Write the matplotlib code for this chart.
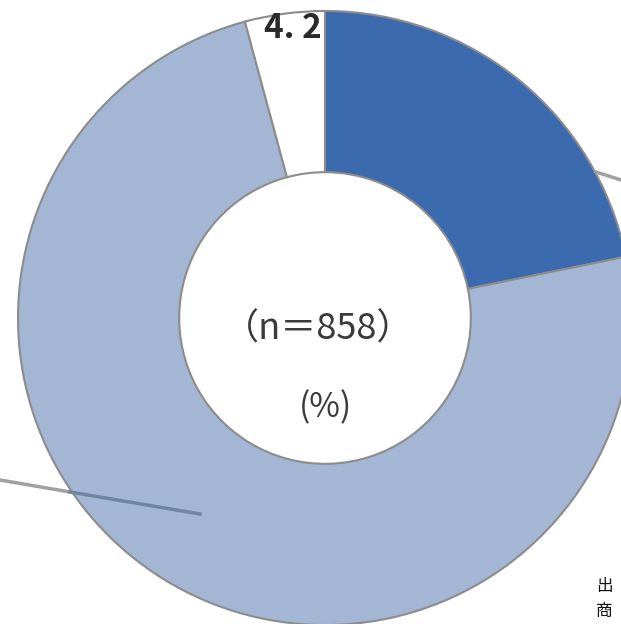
import matplotlib
matplotlib.use("Agg")
import matplotlib.pyplot as plt

# donut shares (clockwise from top)
labels = ["A", "B", "C"]
values = [21.8, 74.0, 4.2]
colors = ["#3b6aae", "#a3b7d4", "#ffffff"]
n_total = 858
small_label = "4. 2"

plt.rcParams['font.family'] = ['Noto Sans CJK JP', 'DejaVu Sans']

fig = plt.figure(figsize=(6.21, 6.24), dpi=100)
ax = fig.add_axes([0, 0, 1, 1])

cx, cy, R = 325, 624 - 318, 307
ax.pie(values, colors=colors, startangle=90, counterclock=False,
       center=(cx, cy), radius=R, frame=True,
       wedgeprops=dict(width=R * 0.525, edgecolor="#8c8c8c", linewidth=1.5))
ax.set_xlim(0, 621)
ax.set_ylim(0, 624)
ax.set_aspect('equal')
ax.axis('off')

# leader lines from outside callouts
ax.plot([596, 621], [624 - 172, 624 - 180], color="#a0a0a0", lw=2.5)
ax.plot([0, 70], [624 - 480, 624 - 492], color="#a0a0a0", lw=2.5)
ax.plot([70, 200], [624 - 492, 624 - 514], color="#6e84a3", lw=2.5)

ax.text(293, 624 - 28, small_label, ha="center", va="center",
        fontsize=24, fontweight="bold", color="#2a2a2a")
ax.text(318, 624 - 330, "（n＝%d）" % n_total, ha="center", va="center",
        fontsize=26, color="#3a3a3a")
ax.text(326, 624 - 408, "(%)", ha="center", va="center",
        fontsize=24, color="#3a3a3a")
ax.text(596, 624 - 578, "出\n商", ha="left", va="top",
        fontsize=12, color="#111111", linespacing=1.6)

fig.savefig("out.png", dpi=100)
